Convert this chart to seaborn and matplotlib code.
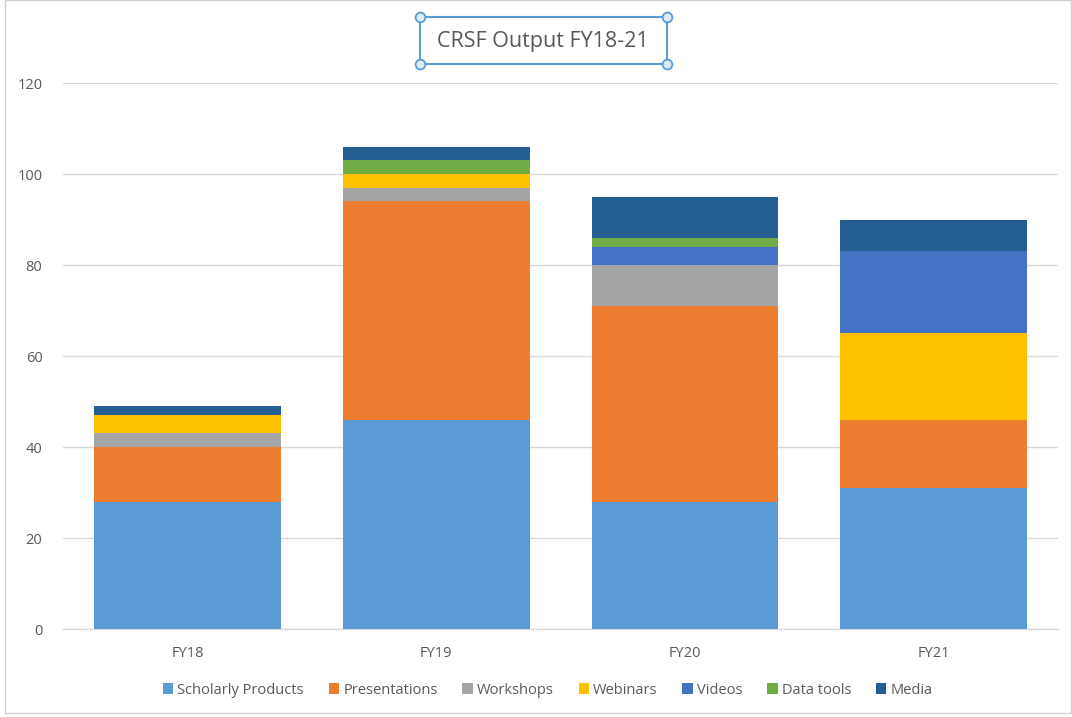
import matplotlib
matplotlib.use("Agg")
import matplotlib.pyplot as plt
import seaborn as sns
import numpy as np
import pandas as pd
from matplotlib.patches import Rectangle
from matplotlib.lines import Line2D

years = ["FY18", "FY19", "FY20", "FY21"]
series_names = ["Scholarly Products", "Presentations", "Workshops", "Webinars",
                "Videos", "Data tools", "Media"]
scholarly = [28, 46, 28, 31]
presentations = [12, 48, 43, 15]
workshops = [3, 3, 9, 0]
webinars = [4, 3, 0, 19]
videos = [0, 0, 4, 18]
data_tools = [0, 3, 2, 0]
media = [2, 3, 9, 7]
colors = ["#5B9BD5", "#ED7D31", "#A5A5A5", "#FFC000", "#4472C4", "#70AD47", "#255E91"]
yticks = [0, 20, 40, 60, 80, 100, 120]

sns.set_theme(style="white")
plt.rcParams['font.family'] = ['Open Sans', 'DejaVu Sans']

values = [scholarly, presentations, workshops, webinars, videos, data_tools, media]
cum = np.cumsum(np.array(values), axis=0)

fig = plt.figure(figsize=(10.72, 7.17), dpi=100)
ax = fig.add_axes([0.059, 0.1227, 0.928, 0.7615])

# draw from top layer down so lower layers overlay
for i in range(len(series_names) - 1, -1, -1):
    df = pd.DataFrame({"year": years, "total": cum[i]})
    sns.barplot(data=df, x="year", y="total", color=colors[i], width=0.75,
                saturation=1, ax=ax, label=series_names[i], zorder=3,
                edgecolor="none", linewidth=0)

ax.set_ylim(0, 120)
ax.set_xlim(-0.5, 3.5)
ax.set_yticks(yticks)
ax.set_yticklabels([str(t) for t in yticks])
ax.yaxis.grid(True, color="#D9D9D9", linewidth=1)
ax.set_axisbelow(True)
for s in ["top", "right", "left"]:
    ax.spines[s].set_visible(False)
ax.spines["bottom"].set_color("#D9D9D9")
ax.spines["bottom"].set_linewidth(1)
ax.tick_params(axis="y", length=0, pad=15, labelsize=10.5, labelcolor="#595959")
ax.tick_params(axis="x", length=0, pad=12, labelsize=10.5, labelcolor="#595959")
ax.set_xlabel("")
ax.set_ylabel("")

handles, labels = ax.get_legend_handles_labels()
order = {n: k for k, n in enumerate(series_names)}
pairs = sorted(zip(handles, labels), key=lambda p: order[p[1]])
leg = ax.legend([p[0] for p in pairs], [p[1] for p in pairs], loc="center",
                bbox_to_anchor=(0.5, 0.5), bbox_transform=fig.transFigure,
                ncol=7, frameon=False, fontsize=10.5, handlelength=0.7,
                handleheight=0.7, handletextpad=0.3, columnspacing=1.7)
leg.set_bbox_to_anchor((0.511, 27 / 717), transform=fig.transFigure)
for t in leg.get_texts():
    t.set_color("#595959")

fig.text(0.5063, 1 - 42 / 717, "CRSF Output FY18-21", ha="center", va="center",
         fontsize=15.5, color="#595959")
# title selection box (as in the reference screenshot)
bx0, by0, bx1, by1 = 420 / 1072, 1 - 64 / 717, 667 / 1072, 1 - 17 / 717
fig.patches.append(Rectangle((bx0, by0), bx1 - bx0, by1 - by0, transform=fig.transFigure,
                             fill=False, edgecolor="#5B9BD5", linewidth=1.5))
fig.lines.append(Line2D([bx0, bx1, bx0, bx1], [by0, by0, by1, by1], transform=fig.transFigure,
                        linestyle="none", marker="o", markersize=7,
                        markerfacecolor="#DDEBF7", markeredgecolor="#5B9BD5",
                        markeredgewidth=1.3))
# chart border
fig.patches.append(Rectangle((5 / 1072, 4 / 717), 1 - 6 / 1072, 1 - 4 / 717,
                             transform=fig.transFigure, fill=False,
                             edgecolor="#D0D0D0", linewidth=1))

fig.savefig("out.png", dpi=100)
